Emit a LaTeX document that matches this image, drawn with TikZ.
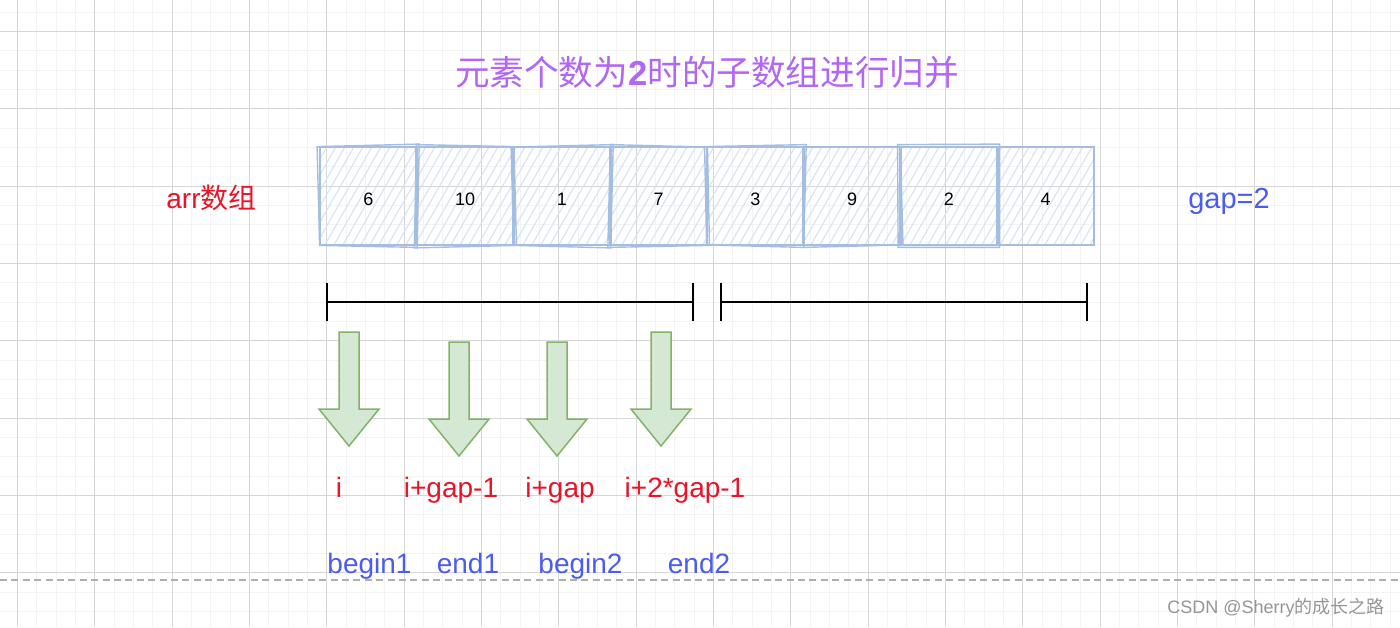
\documentclass[tikz,border=0pt]{standalone}
\usepackage{fontspec}
\setmainfont{Liberation Sans}
\newfontfamily\cjk{Noto Sans CJK SC}
\definecolor{gridminor}{RGB}{243,243,243}
\definecolor{gridmajor}{RGB}{214,214,214}
\definecolor{titlec}{RGB}{178,102,245}
\definecolor{redc}{RGB}{232,20,40}
\definecolor{bluec}{RGB}{75,92,238}
\definecolor{boxc}{RGB}{165,189,224}
\definecolor{hatchc}{RGB}{215,228,246}
\definecolor{arrfill}{RGB}{213,232,212}
\definecolor{arrdraw}{RGB}{130,179,102}
\definecolor{wmc}{RGB}{150,150,150}
\definecolor{dashc}{RGB}{175,175,175}
\begin{document}
\begin{tikzpicture}[x=0.5pt,y=-0.5pt,
  minorl/.style={draw=gridminor,line width=0.5pt},
  majorl/.style={draw=gridmajor,line width=0.6pt},
  cell/.style={draw=boxc,line width=1.4pt,minimum width=48.4pt,minimum height=49pt,inner sep=0pt},
  sketch/.style={draw=boxc,line width=0.7pt},
  hatch/.style={draw=hatchc,line width=0.55pt},
  seg/.style={draw=black,line width=1pt},
  numl/.style={font=\fontsize{9}{11}\selectfont,anchor=base,inner sep=0pt,text=black},
  redl/.style={text=redc,font=\fontsize{14}{16}\selectfont,anchor=base,inner sep=0pt},
  bluel/.style={text=bluec,font=\fontsize{14}{16}\selectfont,anchor=base,inner sep=0pt},
  blockarr/.style={fill=arrfill,draw=arrdraw,line width=0.75pt,line join=miter},
  downarrow/.pic={\path[blockarr] (-10,0) -- (-10,77) -- (-30,77) -- (0,114) -- (30,77) -- (10,77) -- (10,0) -- cycle;}
]
\fill[white] (0,0) rectangle (1400,627);
\useasboundingbox (0,0) rectangle (1400,627);
% grid
\foreach \i in {-1,...,72} {
  \pgfmathsetmacro\xx{17.5+19.333*\i}
  \draw[minorl] (\xx,0) -- (\xx,627);
}
\foreach \i in {-1,...,31} {
  \pgfmathsetmacro\yy{31.5+19.333*\i}
  \draw[minorl] (0,\yy) -- (1400,\yy);
}
\foreach \i in {0,...,18} {
  \pgfmathsetmacro\xx{17.5+77.333*\i}
  \draw[majorl] (\xx,0) -- (\xx,627);
}
\foreach \i in {0,...,7} {
  \pgfmathsetmacro\yy{31.5+77.333*\i}
  \draw[majorl] (0,\yy) -- (1400,\yy);
}
% dashed separator
\coordinate (dl) at (0,580);
\coordinate (dr) at (1400,580);
\draw[dashc,line width=0.7pt,dash pattern=on 3.5pt off 2.2pt] (dl) -- (dr);
% title
\node[text=titlec,font=\fontsize{17.3}{20}\selectfont] (title) at (707,72) {\cjk 元素个数为{\fontspec{Liberation Sans}\bfseries 2}时的子数组进行归并};
% hatching
\begin{scope}
\clip (320,147) rectangle (1094,245);
\foreach \i in {0,...,95} {
  \draw[hatch] ({250+9*\i},250) -- ++(60,-105);
}
\end{scope}
% cells
\foreach \n [count=\k from 0] in {1,...,8} {
  \node[cell] (b\n) at ({368.4+96.75*\k},196) {};
}
% sketch overlay
\foreach \n/\a/\b/\c/\d in {1/-1.5/1/1/-1,2/1/-1/-1/1.5,3/-1/1.5/1.5/-1,4/1.5/-1/-1/1,5/-1/1/1/-1.5,6/1/1.5/-1.5/1,7/-1.5/-1/1/1,8/1/1/-1/-1} {
  \draw[sketch] ([shift={(\a,\b)}]b\n.north west) -- ([shift={(\c,\a)}]b\n.north east) -- ([shift={(\d,\c)}]b\n.south east) -- ([shift={(\b,\d)}]b\n.south west) -- cycle;
}
% numbers
\foreach \n/\v [count=\k from 0] in {1/6,2/10,3/1,4/7,5/3,6/9,7/2,8/4} {
  \node[numl] (t\n) at ({368.4+96.75*\k},205) {\v};
}
% labels left/right
\node[text=redc,font=\fontsize{14}{16}\selectfont,anchor=base west,inner sep=0pt] (arr) at (166,208) {arr{\cjk 数组}};
\node[text=bluec,font=\fontsize{14.5}{16}\selectfont,anchor=base,inner sep=0pt] (gap) at (1229,208) {gap=2};
% range bars
\coordinate (s1a) at (327,302); \coordinate (s1b) at (693,302);
\coordinate (s2a) at (721,302); \coordinate (s2b) at (1087,302);
\draw[seg] (s1a) -- (s1b);
\draw[seg] (s2a) -- (s2b);
\foreach \c in {s1a,s1b,s2a,s2b} {
  \draw[seg] ([yshift=9.3pt]\c) -- ([yshift=-9.5pt]\c);
}
% block arrows
\pic at (349,332) {downarrow};
\pic at (459,342) {downarrow};
\pic at (557,342) {downarrow};
\pic at (661,332) {downarrow};
% index labels
\node[redl] (i1) at (339,497) {i};
\node[redl] (i2) at (451,497) {i+gap-1};
\node[redl] (i3) at (560,497) {i+gap};
\node[redl] (i4) at (685,497) {i+2*gap-1};
\node[bluel] (n1) at (369.5,573) {begin1};
\node[bluel] (n2) at (468,573) {end1};
\node[bluel] (n3) at (580.5,573) {begin2};
\node[bluel] (n4) at (699,573) {end2};
% watermark
\node[text=wmc,font=\fontsize{9}{11}\selectfont,anchor=east,inner sep=0pt] (wm) at (1385,608) {CSDN @Sherry{\cjk 的成长之路}};
\end{tikzpicture}
\end{document}
